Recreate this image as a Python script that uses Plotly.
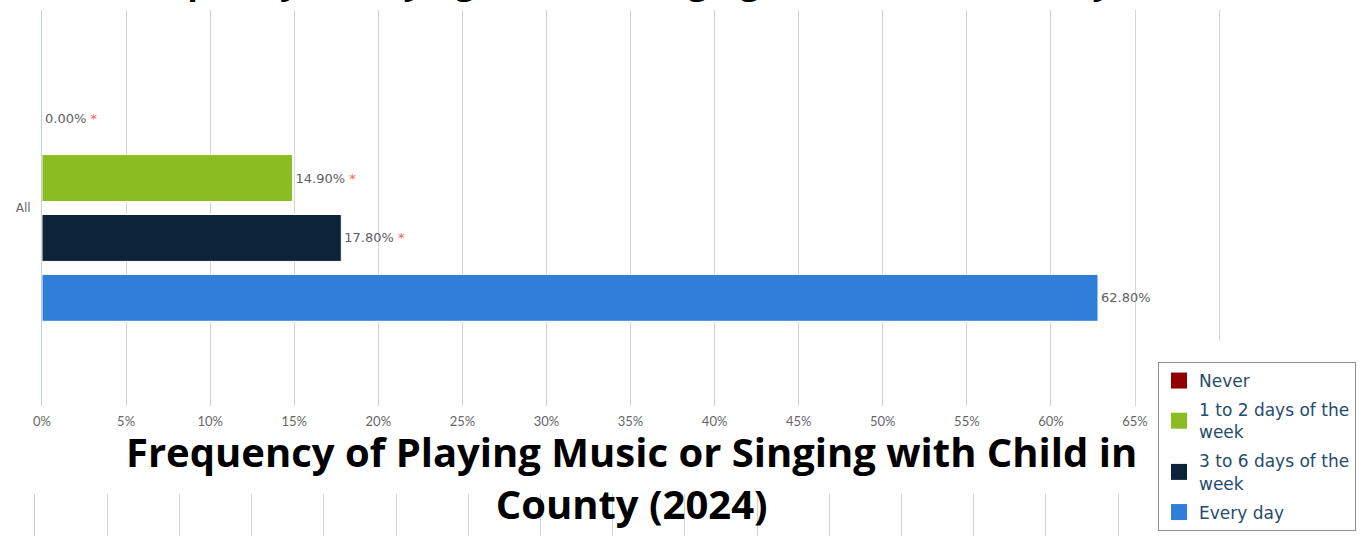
import plotly.graph_objects as go

# ---- data ----
categories = ["All"]
series_names = ["Never", "1 to 2 days of the week", "3 to 6 days of the week", "Every day"]
legend_labels = ["Never", "1 to 2 days of the<br>week", "3 to 6 days of the<br>week", "Every day"]
values = [0.00, 14.90, 17.80, 62.80]
flagged = [True, True, True, False]
colors = ["#910000", "#8bbc21", "#0d233a", "#2f7ed8"]
tick_values = [0, 5, 10, 15, 20, 25, 30, 35, 40, 45, 50, 55, 60, 65, 70]
tick_labels = ["0%", "5%", "10%", "15%", "20%", "25%", "30%", "35%", "40%", "45%",
               "50%", "55%", "60%", "65%", ""]
title_text = "Frequency of Playing Music or Singing with Child in County (2024)"
next_title_text = "Frequency of Playing Music or Singing with Child in<br>County (2024)"
next_tick_values = [0, 5, 10, 15, 20, 25, 30, 35, 40, 45, 50, 55, 60, 65, 70, 75, 80]

W, H = 1370, 536
GRID = "#d4d4d4"
AXIS = "#c0d0e0"

fig = go.Figure()

for name, lab, v, f, c in zip(series_names, legend_labels, values, flagged, colors):
    txt = f"{v:.2f}%" + (" <span style='color:#ff5b5b'>*</span>" if f else "")
    fig.add_trace(go.Bar(
        y=categories, x=[v], orientation="h", name=name,
        marker=dict(color=c, line=dict(color="white", width=1)),
        text=[txt], textposition="outside", cliponaxis=False,
        textfont=dict(family="DejaVu Sans", size=13, color="#606060"),
        showlegend=False, legendgroup=name, hoverinfo="skip",
    ))

# legend entries with larger square swatches
for name, lab, c in zip(series_names, legend_labels, colors):
    fig.add_trace(go.Scatter(
        x=[None], y=[None], mode="markers", name=lab, legendgroup=name,
        marker=dict(symbol="square", size=16, color=c),
        showlegend=True, hoverinfo="skip",
    ))

# next chart (only its gridlines are visible)
fig.add_trace(go.Bar(x=[], y=[], xaxis="x2", yaxis="y2", showlegend=False))

def px_x(p):
    return p / W

def px_y(p):
    return 1 - p / H

x0px = 42
pxper = (1135 - 42) / 65.0
xmax = 70.3
x1px = x0px + xmax * pxper

fig.update_layout(
    width=W, height=H,
    margin=dict(l=0, r=0, t=0, b=0, autoexpand=False),
    paper_bgcolor="white", plot_bgcolor="white",
    barmode="group", bargap=0.395, bargroupgap=0.217,
    showlegend=True,
    xaxis=dict(domain=[px_x(x0px), px_x(x1px)], range=[0, xmax],
               tickvals=tick_values, ticktext=tick_labels,
               showgrid=True, gridcolor=GRID, gridwidth=1, zeroline=False,
               showline=False, ticks="", ticklabelstandoff=6,
               tickfont=dict(family="Lato", size=13, color="#666666"),
               fixedrange=True, anchor="y", automargin=False),
    yaxis=dict(domain=[px_y(406), px_y(10)], type="category",
               range=[0.5, -0.5], showgrid=False, zeroline=False,
               showline=True, linecolor=AXIS, linewidth=1, ticks="",
               ticklabelstandoff=8,
               tickfont=dict(family="DejaVu Sans", size=12, color="#666666"),
               fixedrange=True, anchor="x", automargin=False),
    xaxis2=dict(domain=[px_x(35), px_x(35 + 72.2 * 16)], range=[0, 80],
                tickvals=next_tick_values, showticklabels=False,
                showgrid=True, gridcolor=GRID, gridwidth=1, zeroline=False,
                showline=False, ticks="", anchor="y2", fixedrange=True,
                automargin=False),
    yaxis2=dict(domain=[0, px_y(494)], range=[0, 1], showgrid=False,
                zeroline=False, showline=True, linecolor=AXIS, linewidth=1,
                showticklabels=False, ticks="", anchor="x2", fixedrange=True,
                automargin=False),
    legend=dict(xref="container", yref="container",
                x=px_x(1158), y=px_y(362), xanchor="left", yanchor="top",
                bgcolor="white", bordercolor="#909090", borderwidth=1,
                font=dict(family="DejaVu Sans", size=17, color="#274b6d"),
                traceorder="grouped", tracegroupgap=4, entrywidth=165,
                itemclick=False, itemdoubleclick=False),
    shapes=[dict(type="rect", xref="paper", yref="paper",
                 x0=px_x(1214), x1=px_x(1226), y0=px_y(406), y1=px_y(341),
                 fillcolor="white", line=dict(width=0), layer="above")],
    annotations=[
        dict(text=title_text, xref="paper", yref="paper", x=px_x(672), y=1,
             xanchor="center", yanchor="bottom", yshift=-6, showarrow=False,
             font=dict(family="Open Sans", size=34, color="black", weight="bold")),
        dict(text=next_title_text, xref="paper", yref="paper",
             x=px_x(631), y=px_y(477), xanchor="center", yanchor="middle",
             showarrow=False,
             font=dict(family="Open Sans", size=40, color="black", weight="bold")),
    ],
)

fig.write_html("out.html", config={"displayModeBar": False},
               post_script="document.body.style.margin='0';")
